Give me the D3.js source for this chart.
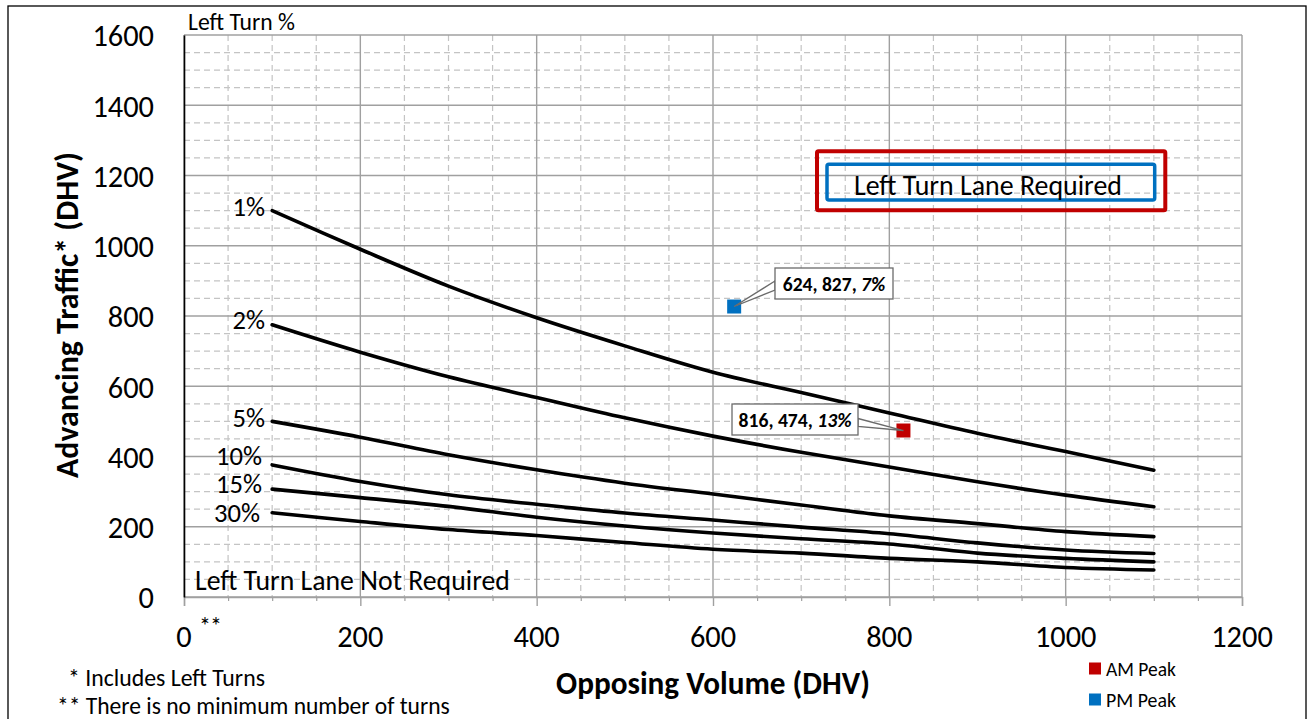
<!DOCTYPE html>
<html>
<head>
<meta charset="utf-8">
<script src="https://cdn.jsdelivr.net/npm/d3@7"></script>
<style>
  html, body { margin: 0; padding: 0; background: #fff; }
  svg { display: block; }
  text { font-family: Carlito, Lato, "Liberation Sans", sans-serif; fill: #000; }
</style>
</head>
<body>
<svg id="chart" width="1311" height="719"></svg>
<script>
// ---------------- data ----------------
const opposing = [100, 200, 300, 400, 500, 600, 700, 800, 900, 1000, 1100];
const pct1  = [1100, 990, 885, 795, 715, 640, 582, 524, 466, 414, 361];
const pct2  = [775, 697, 627, 568, 510, 458, 412, 370, 328, 290, 257];
const pct5  = [500, 455, 405, 362, 324, 293, 262, 231, 209, 186, 172];
const pct10 = [376, 329, 291, 264, 239, 219, 199, 180, 154, 134, 124];
const pct15 = [307, 283, 258, 227, 202, 182, 166, 151, 125, 110, 100];
const pct30 = [240, 215, 192, 175, 155, 136, 125, 110, 100, 84, 77];
const curveLabels = ["1%", "2%", "5%", "10%", "15%", "30%"];
const xTicks = [0, 200, 400, 600, 800, 1000, 1200];
const yTicks = [0, 200, 400, 600, 800, 1000, 1200, 1400, 1600];
const peakNames = ["AM Peak", "PM Peak"];
const peakX = [816, 624];
const peakY = [474, 827];
const peakPct = ["13%", "7%"];
const peakColors = ["#C00000", "#0070C0"];

// ---------------- layout ----------------
const svg = d3.select("#chart");
const x = d3.scaleLinear().domain([0, 1200]).range([184, 1242]);
const y = d3.scaleLinear().domain([0, 1600]).range([597, 35]);
const FONT = 'Carlito, Lato, "Liberation Sans", sans-serif';
const labelOffsets = [-3.6, -4.8, -3.4, -9, -5, 0];
const labelRight = [265, 265, 265, 262, 262, 260];

function fit(sel, w) {
  const L = sel.node().getComputedTextLength();
  const fs = parseFloat(sel.attr("font-size"));
  const n = fs * w / L;
  sel.attr("font-size", n);
  return n;
}

// outer frame
svg.append("rect").attr("x", 8).attr("y", 6).attr("width", 1298).attr("height", 730)
  .attr("fill", "none").attr("stroke", "#000").attr("stroke-width", 1.3);

// minor grid
const g = svg.append("g");
const minorX = d3.range(0, 1201, 50).filter(v => v % 200 !== 0);
const minorY = d3.range(0, 1601, 50).filter(v => v % 200 !== 0);
g.selectAll(".mx").data(minorX).join("line")
  .attr("x1", d => x(d)).attr("x2", d => x(d)).attr("y1", y(1600)).attr("y2", y(0))
  .attr("stroke", "#C4C4C4").attr("stroke-width", 1.2).attr("stroke-dasharray", "6,4");
g.selectAll(".my").data(minorY).join("line")
  .attr("y1", d => y(d)).attr("y2", d => y(d)).attr("x1", x(0)).attr("x2", x(1200))
  .attr("stroke", "#C4C4C4").attr("stroke-width", 1.2).attr("stroke-dasharray", "6,4");
// major grid
g.selectAll(".Mx").data(xTicks).join("line")
  .attr("x1", d => x(d)).attr("x2", d => x(d)).attr("y1", y(1600)).attr("y2", y(0))
  .attr("stroke", "#A0A0A0").attr("stroke-width", 1.4);
g.selectAll(".My").data(yTicks).join("line")
  .attr("y1", d => y(d)).attr("y2", d => y(d)).attr("x1", x(0)).attr("x2", x(1200))
  .attr("stroke", "#A0A0A0").attr("stroke-width", 1.4);

// x axis: major and minor tick marks
const xAxisG = svg.append("g").attr("transform", `translate(0,${y(0)})`);
xAxisG.call(d3.axisBottom(x).tickValues(xTicks).tickSize(9).tickFormat(""));
xAxisG.select(".domain").attr("stroke", "#A0A0A0").attr("stroke-width", 1.4);
xAxisG.selectAll(".tick line").attr("stroke", "#A0A0A0").attr("stroke-width", 1.4);
const xMinorG = svg.append("g").attr("transform", `translate(0,${y(0)})`);
xMinorG.call(d3.axisBottom(x).tickValues(minorX).tickSize(4).tickFormat(""));
xMinorG.select(".domain").remove();
xMinorG.selectAll(".tick line").attr("stroke", "#A0A0A0").attr("stroke-width", 1.2);

// y axis line + labels
const yAxisG = svg.append("g").attr("transform", `translate(${x(0)},0)`);
yAxisG.call(d3.axisLeft(y).tickValues(yTicks).tickSize(0).tickPadding(30).tickFormat(d => String(d)));
yAxisG.select(".domain").attr("stroke", "#000").attr("stroke-width", 1.6);
yAxisG.selectAll(".tick text").attr("font-family", FONT).attr("font-size", 27)
  .attr("fill", "#000").attr("dy", "0.36em");
const tickFs = fit(yAxisG.selectAll(".tick text").filter(d => d === 1600), 61.6);
yAxisG.selectAll(".tick text").attr("font-size", tickFs);

// x tick labels
svg.append("g").selectAll("text").data(xTicks).join("text")
  .attr("x", d => x(d)).attr("y", 636).attr("text-anchor", "middle")
  .attr("dominant-baseline", "central").attr("font-size", tickFs).text(d => String(d));
// "**" next to 0
svg.append("text").attr("x", 199).attr("y", 625).attr("font-size", 24)
  .attr("letter-spacing", -1).attr("dominant-baseline", "central").text("**");

// curves
const series = [pct1, pct2, pct5, pct10, pct15, pct30];
const line = d3.line().x((d, i) => x(opposing[i])).y(d => y(d)).curve(d3.curveCatmullRom.alpha(0.5));
svg.append("g").selectAll("path").data(series).join("path")
  .attr("d", d => line(d)).attr("fill", "none").attr("stroke", "#000")
  .attr("stroke-width", 3.6).attr("stroke-linecap", "round").attr("stroke-linejoin", "round");

// curve labels
const lbls = svg.append("g").selectAll("text").data(curveLabels).join("text")
  .attr("x", (d, i) => labelRight[i])
  .attr("y", (d, i) => y(series[i][0]) + labelOffsets[i])
  .attr("text-anchor", "end").attr("dominant-baseline", "central")
  .attr("font-size", 26).text(d => d);
const lblFs = fit(lbls.filter(d => d === "10%"), 46);
lbls.attr("font-size", lblFs);

// region texts
const notReq = svg.append("text").attr("x", 195).attr("y", 580).attr("dominant-baseline", "central")
  .attr("font-size", 24).text("Left Turn Lane Not Required");
fit(notReq, 315);

svg.append("rect").attr("x", 817).attr("y", 151.3).attr("width", 348.3).attr("height", 59)
  .attr("fill", "none").attr("stroke", "#C00000").attr("stroke-width", 4).attr("rx", 1.5);
svg.append("rect").attr("x", 827).attr("y", 164.2).attr("width", 327.7).attr("height", 35.8)
  .attr("fill", "none").attr("stroke", "#0070C0").attr("stroke-width", 3.5).attr("rx", 2);
const req = svg.append("text").attr("x", 988).attr("y", 184.5).attr("text-anchor", "middle")
  .attr("dominant-baseline", "central").attr("font-size", 22).text("Left Turn Lane Required");
fit(req, 268);

const ltp = svg.append("text").attr("x", 188).attr("y", 21).attr("dominant-baseline", "central")
  .attr("font-size", 18).text("Left Turn %");
fit(ltp, 107);

// peak points
const sq = 14;
svg.append("g").selectAll("rect").data(peakX).join("rect")
  .attr("x", d => x(d) - sq / 2).attr("y", (d, i) => y(peakY[i]) - sq / 2)
  .attr("width", sq).attr("height", sq).attr("fill", (d, i) => peakColors[i]);

// callouts
const boxes = [
  { bx: 732, by: 404, bw: 126, bh: 31, wedge: [[858, 418.5], [858, 426.5]], tw: 113 },
  { bx: 775, by: 268, bw: 118, bh: 31, wedge: [[775, 281], [775, 290]], tw: 102.6 }
];
boxes.forEach((b, i) => {
  const px = x(peakX[i]), py = y(peakY[i]);
  svg.append("path")
    .attr("d", `M${b.wedge[0][0]},${b.wedge[0][1]} L${px},${py} L${b.wedge[1][0]},${b.wedge[1][1]} Z`)
    .attr("fill", "#fff").attr("stroke", "#6B6B6B").attr("stroke-width", 1.3);
  svg.append("rect").attr("x", b.bx).attr("y", b.by).attr("width", b.bw).attr("height", b.bh)
    .attr("fill", "#fff").attr("stroke", "#6B6B6B").attr("stroke-width", 1.3);
  const t = svg.append("text").attr("x", b.bx + b.bw / 2).attr("y", b.by + b.bh / 2 + 0.5)
    .attr("text-anchor", "middle").attr("dominant-baseline", "central")
    .attr("font-size", 15).attr("font-weight", "bold");
  t.append("tspan").text(`${peakX[i]}, ${peakY[i]}, `);
  t.append("tspan").attr("font-style", "italic").text(peakPct[i]);
  fit(t, b.tw);
});

// axis titles
const yt = svg.append("text").attr("transform", "translate(67,315) rotate(-90)")
  .attr("text-anchor", "middle").attr("dominant-baseline", "central")
  .attr("font-weight", "bold").attr("font-size", 26).text("Advancing Traffic* (DHV)");
fit(yt, 326);
const xt = svg.append("text").attr("x", 713).attr("y", 683).attr("text-anchor", "middle")
  .attr("dominant-baseline", "central").attr("font-weight", "bold").attr("font-size", 26)
  .text("Opposing Volume (DHV)");
fit(xt, 314);

// footnotes
const f1 = svg.append("text").attr("x", 68).attr("y", 677).attr("dominant-baseline", "central")
  .attr("font-size", 19).text("* Includes Left Turns");
fit(f1, 197);
const f2 = svg.append("text").attr("x", 57).attr("y", 706).attr("dominant-baseline", "central")
  .attr("font-size", 19).text("** There is no minimum number of turns");
fit(f2, 393);

// legend
const legY = [668.5, 699.5];
peakNames.forEach((n, i) => {
  svg.append("rect").attr("x", 1089).attr("y", legY[i] - 6).attr("width", 12).attr("height", 12)
    .attr("fill", peakColors[i]);
  const t = svg.append("text").attr("x", 1106).attr("y", legY[i]).attr("dominant-baseline", "central")
    .attr("font-size", 16).text(n);
  fit(t, 70);
});
</script>
</body>
</html>
